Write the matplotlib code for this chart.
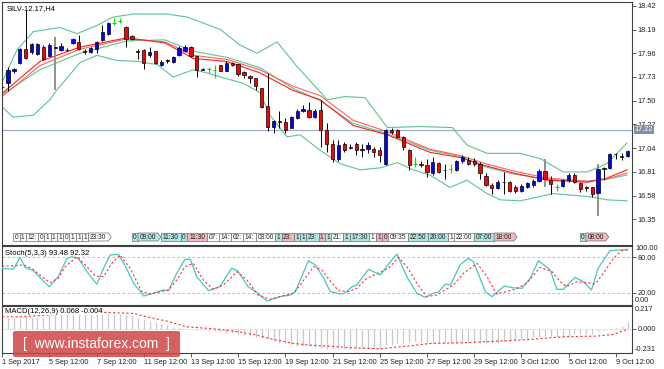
import matplotlib
matplotlib.use("Agg")
import matplotlib.pyplot as plt
from matplotlib.patches import Rectangle, FancyBboxPatch, Polygon
import numpy as np

plt.rcParams['font.family'] = ['Liberation Sans', 'DejaVu Sans']

# ---------------- data ----------------
opens = [17.63, 17.67, 17.79, 17.87, 18.00, 17.97, 17.95, 18.02, 17.93, 18.02,
         17.99, 17.995, 18.06, 18.07, 17.98, 17.97, 18.00, 18.09, 18.15, 18.25,
         18.27, 18.21, 18.13, 17.98, 17.99, 17.94, 17.98, 17.85, 17.885, 17.88,
         17.94, 17.98, 18.02, 17.93, 17.81, 17.805, 17.80, 17.85, 17.79, 17.87,
         17.855, 17.78, 17.74, 17.72, 17.62, 17.45, 17.25, 17.30, 17.29, 17.24,
         17.33, 17.40, 17.41, 17.34, 17.41, 17.215, 17.085, 16.94, 17.085, 17.05,
         17.085, 17.02, 17.035, 17.035, 17.02, 16.89, 17.22, 17.215, 17.15, 17.02,
         16.89, 16.89, 16.875, 16.795, 16.895, 16.83, 16.84, 16.825, 16.915, 16.93,
         16.915, 16.89, 16.775, 16.68, 16.65, 16.715, 16.71, 16.665, 16.63, 16.66,
         16.68, 16.72, 16.82, 16.735, 16.665, 16.67, 16.73, 16.785, 16.705, 16.66,
         16.66, 16.605, 16.85, 16.85, 16.98, 16.955, 16.96]
highs = [17.64, 17.83, 17.82, 18.01, 18.38, 18.06, 18.06, 18.04, 18.06, 18.12,
         18.06, 18.01, 18.11, 18.14, 18.00, 18.02, 18.08, 18.23, 18.26, 18.30,
         18.30, 18.22, 18.14, 18.00, 18.00, 18.02, 17.98, 17.89, 17.90, 17.93,
         18.03, 18.04, 18.03, 17.93, 17.815, 17.83, 17.85, 17.85, 17.885, 17.875,
         17.86, 17.79, 17.75, 17.72, 17.625, 17.77, 17.31, 17.40, 17.33, 17.35,
         17.42, 17.46, 17.49, 17.42, 17.51, 17.28, 17.12, 17.12, 17.10, 17.085,
         17.10, 17.085, 17.10, 17.055, 17.055, 17.23, 17.24, 17.23, 17.155, 17.035,
         16.955, 16.92, 16.94, 16.955, 16.905, 16.89, 16.89, 16.93, 16.97, 16.95,
         16.945, 16.91, 16.795, 16.70, 16.73, 16.81, 16.72, 16.68, 16.69, 16.71,
         16.745, 16.84, 16.94, 16.775, 16.69, 16.745, 16.80, 16.80, 16.71, 16.67,
         16.665, 16.89, 16.86, 16.995, 16.995, 16.99, 17.025]
lows = [17.62, 17.59, 17.77, 17.86, 17.90, 17.95, 17.94, 17.89, 17.93, 17.60,
        17.98, 17.98, 18.05, 17.99, 17.95, 17.96, 17.96, 18.08, 18.14, 18.23,
        18.25, 18.02, 18.09, 17.90, 17.81, 17.92, 17.86, 17.84, 17.87, 17.87,
        17.93, 17.97, 17.92, 17.73, 17.795, 17.77, 17.72, 17.785, 17.785, 17.84,
        17.74, 17.72, 17.675, 17.60, 17.43, 17.21, 17.19, 17.24, 17.19, 17.235,
        17.32, 17.39, 17.33, 17.33, 17.05, 17.00, 16.91, 16.92, 17.00, 17.03,
        16.97, 16.955, 16.99, 16.955, 16.905, 16.875, 17.18, 17.135, 17.02, 16.825,
        16.86, 16.86, 16.76, 16.785, 16.80, 16.745, 16.795, 16.82, 16.895, 16.875,
        16.865, 16.745, 16.67, 16.60, 16.64, 16.595, 16.615, 16.605, 16.615, 16.65,
        16.665, 16.71, 16.665, 16.60, 16.63, 16.66, 16.71, 16.70, 16.615, 16.63,
        16.565, 16.38, 16.73, 16.835, 16.94, 16.925, 16.955]
closes = [17.63, 17.80, 17.81, 18.00, 17.91, 18.05, 18.05, 17.90, 18.04, 18.01,
          18.03, 17.99, 18.10, 18.00, 17.975, 18.01, 18.07, 18.17, 18.25, 18.25,
          18.27, 18.10, 18.10, 17.975, 17.87, 17.97, 17.87, 17.88, 17.89, 17.92,
          18.01, 18.02, 17.93, 17.80, 17.80, 17.805, 17.80, 17.79, 17.87, 17.845,
          17.76, 17.75, 17.72, 17.64, 17.44, 17.25, 17.30, 17.29, 17.22, 17.34,
          17.40, 17.42, 17.34, 17.40, 17.22, 17.085, 16.94, 17.07, 17.02, 17.045,
          17.02, 17.035, 17.07, 17.005, 16.97, 17.22, 17.20, 17.15, 17.055, 16.875,
          16.89, 16.875, 16.81, 16.905, 16.81, 16.825, 16.84, 16.915, 16.955, 16.89,
          16.885, 16.795, 16.68, 16.65, 16.71, 16.71, 16.63, 16.63, 16.67, 16.70,
          16.72, 16.82, 16.74, 16.69, 16.665, 16.735, 16.785, 16.71, 16.64, 16.655,
          16.60, 16.84, 16.835, 16.98, 16.985, 16.965, 17.015]
doji_bars = [19, 20, 35, 36, 70, 76, 94]
gray_wick_bars = [9, 92, 101]

# Bollinger bands and moving averages (bar index, price)
bb_up_x = [0, 2.5, 5.3, 9.8, 12.7, 16.1, 18.8, 22.2, 28, 31.4, 34.7, 37, 40.3, 43.2, 46.6,
           50, 55.1, 58.1, 61.5, 65.3, 70.8, 76.3, 78.8, 82.2, 87.8, 91.2, 95.1, 99.2, 102.5, 105.9]
bb_up_y = [17.68, 17.99, 18.17, 18.21, 18.15, 18.23, 18.31, 18.34, 18.34, 18.31, 18.24, 18.19,
           18.04, 17.96, 18.07, 17.83, 17.51, 17.54, 17.53, 17.24, 17.25, 17.24, 17.07, 16.99,
           16.99, 16.94, 16.81, 16.81, 16.89, 17.09]
bb_lo_x = [0, 1.9, 5.3, 8.1, 9.5, 11, 13.2, 16.1, 19.5, 23.1, 26.3, 29, 32.4, 34.7, 37, 40.8,
           43.7, 45.4, 48.3, 50.5, 53.9, 57.3, 60.7, 64.1, 67, 69.7, 72.5, 75.9, 78.8, 81.9,
           84.4, 87.8, 93.4, 99.7, 102.5, 105.9]
bb_lo_y = [17.44, 17.34, 17.36, 17.51, 17.62, 17.72, 17.87, 17.94, 17.89, 17.88, 17.85, 17.73,
           17.80, 17.77, 17.73, 17.67, 17.58, 17.36, 17.15, 17.17, 17.02, 16.89, 16.83, 16.85,
           16.90, 16.83, 16.78, 16.66, 16.73, 16.61, 16.54, 16.53, 16.60, 16.57, 16.54, 16.53]
ma1_x = [0, 6.4, 13.2, 21.2, 27.6, 32.4, 38.1, 43.7, 49.3, 53.9, 59.5, 65.3, 72.5, 77.6,
         81.9, 86.6, 92.4, 99.2, 102.5, 105.9]
ma1_y = [17.57, 17.88, 18.02, 18.11, 18.06, 17.91, 17.88, 17.77, 17.60, 17.51, 17.26, 17.17,
         17.00, 16.95, 16.87, 16.80, 16.73, 16.71, 16.75, 16.83]
ma2_y = [17.54, 17.84, 18.00, 18.10, 18.07, 17.94, 17.90, 17.80, 17.64, 17.55, 17.31, 17.20,
         17.03, 16.97, 16.89, 16.82, 16.75, 16.72, 16.74, 16.80]
mid_y = [17.56, 17.80, 17.96, 18.08, 18.09, 17.98, 17.92, 17.82, 17.62, 17.50, 17.28, 17.18,
         17.02, 16.96, 16.86, 16.79, 16.74, 16.72, 16.74, 16.78]
hline_price = 17.22

# Stochastic (5,3,3)
st_main_x = [0, 1.9, 3.05, 3.9, 5.3, 6.4, 8.0, 9.5, 11.0, 11.8, 12.9, 14.6, 16.05, 17.2, 18.3,
             19.7, 20.8, 22.3, 24, 25.6, 27.3, 28.2, 29.6, 31, 31.9, 33, 35, 36.9, 38.9, 39.9,
             41.7, 43.2, 44.9, 47.1, 48.8, 49.7, 51.9, 53.1, 54.5, 55.6, 57.3, 58.1, 59.3, 60.1,
             62.1, 64.1, 65.8, 66.9, 68.6, 70.3, 71.7, 73.1, 74, 75.1, 76, 77.6, 79, 79.9, 81.9,
             83, 85.1, 86.4, 88.1, 89.5, 90.9, 92.9, 94, 95.1, 97.1, 98.5, 99.9, 101, 103,
             104.7, 106]
st_main_y = [61.4, 59.7, 80, 63, 57.3, 46, 30.2, 47, 78.3, 81, 78.3, 52.9, 34.2, 61.4, 83.9,
             85, 67, 35.9, 14.4, 19, 24.6, 23.4, 52.9, 76.6, 76.6, 47, 23.4, 30.2, 61.4, 57.3,
             30.2, 20, 5.9, 13.2, 16.1, 21.7, 74.2, 67, 44.4, 22, 17.8, 19, 30.2, 33, 59.7, 50,
             72.5, 85.6, 47, 19, 12.2, 19, 21.7, 34.7, 33, 67, 78.3, 72.5, 21.7, 13.2, 31.4,
             28.5, 27.4, 44.4, 74.2, 58.5, 25.8, 25.8, 46, 38.6, 24.6, 61.4, 91.2, 92.4, 93.48]
st_sig_x = [0, 1.4, 3.6, 5.0, 6.4, 8.1, 9.5, 10.7, 12.7, 14.1, 15.8, 17.2, 18.6, 20, 21.7,
            23.7, 25.1, 26.8, 28.2, 29.6, 31, 32.4, 34.1, 35.8, 37.5, 39.8, 41.5, 43.4, 45.4,
            47.4, 49.4, 50.5, 52.8, 54.2, 55.6, 57, 58.7, 60.1, 61.8, 64.1, 65.5, 67.2, 68.6,
            70.3, 72, 73.7, 75.1, 76.5, 78.2, 80.5, 82.2, 83.8, 85.3, 87, 88.9, 91.2, 93.2,
            94.6, 95.7, 97.4, 99.1, 100.5, 101.9, 103.6, 105, 106]
st_sig_y = [65.3, 65.3, 67, 61.4, 50, 37, 44.4, 64.1, 81, 67, 48.3, 47, 69.8, 83.9, 61.4,
            21.7, 17.8, 21.7, 24.6, 41.5, 64.1, 69.8, 41.5, 25.8, 33, 55.6, 41.5, 16.1, 8.8,
            14.4, 19, 33, 64.1, 58.5, 40, 23.4, 21.7, 27.4, 44.4, 54.6, 61.4, 80, 64.1, 35.9,
            13.2, 16.1, 24.6, 33, 52.9, 69.8, 47, 17.8, 21.7, 25.8, 35.9, 63, 55.6, 38.6, 30.2,
            38.6, 37, 34.7, 52.9, 78.3, 91.2, 92.32]

# MACD (12,26,9): histogram per bar, signal line read at points
macd_hist = [0.105, 0.104, 0.104, 0.106, 0.108, 0.110, 0.112, 0.115, 0.127, 0.132,
             0.138, 0.144, 0.146, 0.146, 0.146, 0.146, 0.147, 0.146, 0.140, 0.138,
             0.137, 0.135, 0.120, 0.105, 0.089, 0.075, 0.064, 0.048, 0.032, 0.020,
             0.010, 0.002, -0.006, -0.013, -0.016, -0.019, -0.022, -0.030, -0.037, -0.044,
             -0.052, -0.061, -0.070, -0.080, -0.090, -0.100, -0.117, -0.133, -0.149, -0.157,
             -0.165, -0.167, -0.168, -0.170, -0.180, -0.190, -0.197, -0.197, -0.197, -0.197,
             -0.185, -0.183, -0.181, -0.181, -0.181, -0.159, -0.150, -0.140, -0.135, -0.128,
             -0.118, -0.128, -0.140, -0.140, -0.140, -0.140, -0.138, -0.135, -0.133, -0.136,
             -0.140, -0.140, -0.138, -0.136, -0.133, -0.128, -0.123, -0.118, -0.100, -0.086,
             -0.080, -0.075, -0.070, -0.072, -0.074, -0.076, -0.065, -0.054, -0.054, -0.054,
             -0.054, -0.022, -0.010, 0.000, 0.010, 0.030, 0.068]
macd_sig_x = [0, 3, 16, 22.3, 24, 27.9, 31.3, 35.8, 39.2, 42.6, 46, 49.4, 52.8, 55.6, 59,
              64.1, 69.7, 72.5, 78.2, 83.8, 89.5, 95.1, 100.8, 103.6, 106]
macd_sig_y = [0.114, 0.114, 0.159, 0.146, 0.120, 0.073, 0.019, 0.0, -0.022, -0.054, -0.102,
              -0.140, -0.159, -0.166, -0.181, -0.191, -0.159, -0.140, -0.133, -0.118, -0.102,
              -0.076, -0.070, -0.054, -0.004]

x_labels = ["1 Sep 2017", "5 Sep 12:00", "7 Sep 12:00", "11 Sep 12:00", "13 Sep 12:00",
            "15 Sep 12:00", "19 Sep 12:00", "21 Sep 12:00", "25 Sep 12:00", "27 Sep 12:00",
            "29 Sep 12:00", "3 Oct 12:00", "5 Oct 12:00", "9 Oct 12:00"]
price_ticks = [18.42, 18.19, 17.96, 17.73, 17.50, 17.27, 17.04, 16.81, 16.58, 16.35]

# ---------------- layout ----------------
W, H = 664, 369
fig = plt.figure(figsize=(W / 100, H / 100), dpi=100)
fig.patch.set_facecolor('white')


def fr(x0, y0, x1, y1):
    return [x0 / W, 1 - y1 / H, (x1 - x0) / W, (y1 - y0) / H]


ax = fig.add_axes(fr(1.5, 1.5, 632, 244.5))
axs = fig.add_axes(fr(1.5, 245.5, 632, 304.5))
axm = fig.add_axes(fr(1.5, 306, 632, 353))

n = len(closes)
xs = np.arange(n)
XL = (-0.1, 106.75)
for a in (ax, axs, axm):
    a.set_xlim(*XL)
    for s in a.spines.values():
        s.set_color('#404040')
        s.set_linewidth(0.8)
    a.tick_params(axis='x', bottom=False, labelbottom=False)
    a.yaxis.tick_right()
    a.tick_params(axis='y', length=3, width=0.6, color='#404040', pad=1,
                  labelsize=5.3, labelcolor='#202020')

ax.set_ylim(16.107, 18.4615)
axs.set_ylim(0, 100)
axm.set_ylim(-0.231, 0.217)

# ---- main panel ----
GREEN = '#5cc58f'
ax.plot(bb_up_x, bb_up_y, color=GREEN, lw=0.8, zorder=2)
ax.plot(bb_lo_x, bb_lo_y, color=GREEN, lw=0.8, zorder=2)
ax.plot(ma1_x, mid_y, color=GREEN, lw=0.8, zorder=2)
ax.plot(ma1_x, ma2_y, color='#ff6060', lw=0.8, zorder=2)
ax.plot(ma1_x, ma1_y, color='#ff2020', lw=0.8, zorder=2)
ax.axhline(hline_price, color='#a0afc0', lw=0.9, zorder=1)

bw = 0.55
for i in range(n):
    o, h, l, c = opens[i], highs[i], lows[i], closes[i]
    if i in doji_bars:
        ax.vlines(i, l, h, color='#00e000', lw=0.8, zorder=3)
        ax.hlines(c, i - bw / 2 - 0.05, i + bw / 2 + 0.05, color='#00e000', lw=0.8, zorder=3)
        continue
    wc = '#909090' if i in gray_wick_bars else 'black'
    wl = 1.4 if i in gray_wick_bars else 0.7
    ax.vlines(i, l, h, color=wc, lw=wl, zorder=3)
    col = '#0000ff' if c >= o else '#ff0000'
    bot = min(o, c)
    hgt = max(abs(c - o), 0.004)
    ax.add_patch(Rectangle((i - bw / 2, bot), bw, hgt, facecolor=col,
                           edgecolor='black', lw=0.5, zorder=4))

ax.set_yticks(price_ticks)
ax.set_yticklabels([f"{p:.2f}" for p in price_ticks])
ax.text(5.5 / (630.5), 0.985, "SILV-12.17,H4", transform=ax.transAxes, fontsize=5.5,
        va='top', ha='left', color='black')
# current line label (covers part of the 17.27 label, as in the source)
ax.annotate("17.22", xy=(1.0, hline_price), xycoords=('axes fraction', 'data'),
            xytext=(2, 0), textcoords='offset points', fontsize=5.3, color='white',
            va='center', ha='left',
            bbox=dict(boxstyle='square,pad=0.15', fc='#7e90a4', ec='none'), annotation_clip=False)

# event labels row (decoration)
WHT, CYN, PNK = 'white', '#aee6e6', '#f4b6c0'
groups = [
    (13.3, [("0", WHT), ("1", WHT), ("12:", WHT), ("0", WHT), ("1", WHT), ("1", WHT), ("1", WHT),
            ("0", WHT), ("1", WHT), ("1", WHT), ("1", WHT), ("23:30>", WHT)]),
    (131.7, [("0", CYN), ("09:00>", CYN)]),
    (161.0, [("11:30", CYN), ("0", CYN), ("11:30", PNK), ("07:", WHT), ("14:", WHT), ("02:", WHT),
             ("14:", WHT), ("03:00", WHT), ("1", CYN), ("23:", PNK), ("1", CYN), ("1", CYN),
             ("23:", CYN), ("1", PNK), ("1", CYN), ("21:", WHT), ("1", CYN), ("17:30", CYN),
             ("1", WHT), ("1", PNK), ("0", PNK), ("09:35", WHT), ("22:50", CYN), ("20:00", CYN),
             ("1", WHT), ("22:00", WHT), ("07:00", CYN), ("18:00>", PNK)]),
    (579.5, [("0", CYN), ("08:00>", PNK)]),
]
for gx, items in groups:
    x = gx
    for txt, colr in items:
        arrow = txt.endswith('>')
        t = txt.rstrip('>')
        wpx = 2.4 + 3.9 * sum(ch.isdigit() for ch in t) + 1.9 * t.count(':')
        y0, y1 = 233.0, 241.0
        fx0, fx1 = x / W, (x + wpx) / W
        fy0, fy1 = 1 - y1 / H, 1 - y0 / H
        if arrow:
            pts = [(fx0, fy0), (fx1, fy0), (fx1 + 3 / W, (fy0 + fy1) / 2), (fx1, fy1), (fx0, fy1)]
            fig.patches.append(Polygon(pts, closed=True, facecolor=colr, edgecolor='#707070',
                                       lw=0.5, transform=fig.transFigure, figure=fig, zorder=5))
        else:
            fig.patches.append(Rectangle((fx0, fy0), fx1 - fx0, fy1 - fy0, facecolor=colr,
                                         edgecolor='#707070', lw=0.5, transform=fig.transFigure,
                                         figure=fig, zorder=5))
        fig.text((x + wpx / 2) / W, 1 - 237.2 / H, t, fontsize=4.8, ha='center', va='center',
                 color='#202020', zorder=6)
        x += wpx + (3 if arrow else 0)

# ---- stochastic panel ----
axs.axhline(80, color='#b0b0b0', lw=0.6, ls=(0, (3, 3)))
axs.axhline(20, color='#b0b0b0', lw=0.6, ls=(0, (3, 3)))
axs.plot(st_main_x, st_main_y, color='#45c8c0', lw=0.9, zorder=3)
axs.plot(st_sig_x, st_sig_y, color='#ff3030', lw=0.8, ls=(0, (2, 2)), zorder=3)
axs.set_yticks([80, 20])
axs.set_yticklabels(["80.00", "20.00"])
axs.text(1.005, 100, "100.00", transform=axs.get_yaxis_transform(), fontsize=5.3, va='top',
         ha='left', color='#202020')
axs.text(1.005, 1, "0.00", transform=axs.get_yaxis_transform(), fontsize=5.3, va='bottom',
         ha='left', color='#202020')
axs.text(0.005, 0.92, "Stoch(5,3,3) 93.48 92.32", transform=axs.transAxes, fontsize=5.5,
         va='top', ha='left', color='black')

# ---- MACD panel ----
axm.axhline(0, color='#b0b0b0', lw=0.6, ls=(0, (1, 2)))
axm.vlines(xs, 0, macd_hist, color='#c8c8c8', lw=0.9, zorder=2)
axm.plot(macd_sig_x, macd_sig_y, color='#ff3030', lw=0.8, ls=(0, (2, 2)), zorder=3)
axm.set_yticks([0])
axm.set_yticklabels(["0.000"])
axm.text(1.005, 0.217, "0.217", transform=axm.get_yaxis_transform(), fontsize=5.3, va='top',
         ha='left', color='#202020')
axm.text(1.005, -0.231, "-0.231", transform=axm.get_yaxis_transform(), fontsize=5.3,
         va='bottom', ha='left', color='#202020')
axm.text(0.005, 0.96, "MACD(12,26,9) 0.068 -0.004", transform=axm.transAxes, fontsize=5.5,
         va='top', ha='left', color='black', zorder=5,
         bbox=dict(boxstyle='square,pad=0.05', fc='white', ec='none'))
axm.set_xticks(list(range(0, 8 * len(x_labels), 8)))
axm.set_xticklabels(x_labels, ha='left')
axm.tick_params(axis='x', bottom=True, labelbottom=True, length=3, width=0.6, color='#404040',
                pad=1, labelsize=5.3, labelcolor='#202020')

# watermark
fig.patches.append(FancyBboxPatch((13 / W, 1 - 357 / H), 167 / W, 26 / H,
                                  boxstyle='round,pad=0,rounding_size=0.004',
                                  facecolor='#d04545', edgecolor='none', alpha=0.85,
                                  transform=fig.transFigure, figure=fig, zorder=10))
fig.text(96 / W, 1 - 344 / H, "[  www.instaforex.com  ]", fontsize=10, color='white',
         ha='center', va='center', zorder=11)

fig.savefig('out.png', dpi=100, facecolor='white')
